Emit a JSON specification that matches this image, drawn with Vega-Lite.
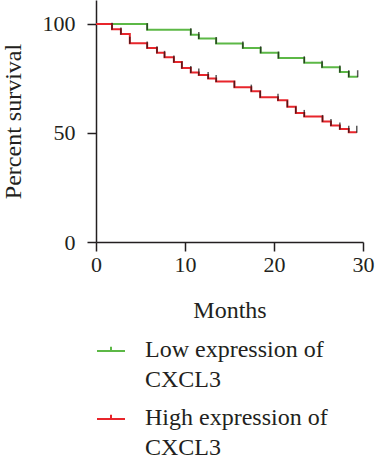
{
  "$schema": "https://vega.github.io/schema/vega-lite/v6.json",
  "autosize": {"type": "none"},
  "padding": {"left": 96, "top": 0, "right": 13, "bottom": 220},
  "width": 267,
  "height": 242,
  "background": "white",
  "data": {"values": [
    {"group": "Low expression of CXCL3", "month": 0, "surv": 100},
    {"group": "Low expression of CXCL3", "month": 5.75, "surv": 97.4},
    {"group": "Low expression of CXCL3", "month": 10.65, "surv": 95.1},
    {"group": "Low expression of CXCL3", "month": 11.55, "surv": 93.3},
    {"group": "Low expression of CXCL3", "month": 13.5, "surv": 91.1},
    {"group": "Low expression of CXCL3", "month": 16.5, "surv": 89.0},
    {"group": "Low expression of CXCL3", "month": 18.5, "surv": 86.8},
    {"group": "Low expression of CXCL3", "month": 20.5, "surv": 84.4},
    {"group": "Low expression of CXCL3", "month": 23.4, "surv": 82.2},
    {"group": "Low expression of CXCL3", "month": 25.4, "surv": 80.1},
    {"group": "Low expression of CXCL3", "month": 27.4, "surv": 78.0},
    {"group": "Low expression of CXCL3", "month": 28.4, "surv": 75.8},
    {"group": "Low expression of CXCL3", "month": 29.4, "surv": 75.8},
    {"group": "High expression of CXCL3", "month": 0, "surv": 100},
    {"group": "High expression of CXCL3", "month": 1.8, "surv": 97.6},
    {"group": "High expression of CXCL3", "month": 2.8, "surv": 95.4},
    {"group": "High expression of CXCL3", "month": 3.8, "surv": 91.2},
    {"group": "High expression of CXCL3", "month": 5.75, "surv": 89.0},
    {"group": "High expression of CXCL3", "month": 6.85, "surv": 86.8},
    {"group": "High expression of CXCL3", "month": 7.7, "surv": 84.7},
    {"group": "High expression of CXCL3", "month": 8.75, "surv": 82.6},
    {"group": "High expression of CXCL3", "month": 9.65, "surv": 79.8},
    {"group": "High expression of CXCL3", "month": 10.65, "surv": 77.8},
    {"group": "High expression of CXCL3", "month": 11.55, "surv": 76.6},
    {"group": "High expression of CXCL3", "month": 12.6, "surv": 75.0},
    {"group": "High expression of CXCL3", "month": 13.5, "surv": 73.6},
    {"group": "High expression of CXCL3", "month": 15.55, "surv": 71.0},
    {"group": "High expression of CXCL3", "month": 17.45, "surv": 69.2},
    {"group": "High expression of CXCL3", "month": 18.45, "surv": 66.4},
    {"group": "High expression of CXCL3", "month": 20.45, "surv": 65.0},
    {"group": "High expression of CXCL3", "month": 21.5, "surv": 62.0},
    {"group": "High expression of CXCL3", "month": 22.45, "surv": 59.2},
    {"group": "High expression of CXCL3", "month": 23.4, "surv": 57.6},
    {"group": "High expression of CXCL3", "month": 25.45, "surv": 55.3},
    {"group": "High expression of CXCL3", "month": 26.4, "surv": 53.4},
    {"group": "High expression of CXCL3", "month": 27.4, "surv": 51.8},
    {"group": "High expression of CXCL3", "month": 28.4, "surv": 50.3},
    {"group": "High expression of CXCL3", "month": 29.3, "surv": 50.3}
  ]},
  "layer": [
    {
      "mark": {"type": "line", "interpolate": "step-after", "strokeWidth": 2},
      "encoding": {
        "x": {"field": "month", "type": "quantitative",
              "scale": {"domain": [0, 30], "nice": false},
              "axis": {"values": [0, 10, 20, 30], "title": "Months"}},
        "y": {"field": "surv", "type": "quantitative",
              "scale": {"domain": [0, 111], "nice": false},
              "axis": {"values": [0, 50, 100], "title": "Percent survival"}},
        "color": {"field": "group", "type": "nominal",
                  "scale": {"domain": ["Low expression of CXCL3", "High expression of CXCL3"],
                            "range": ["#5cb846", "#e8252b"]},
                  "legend": {
                    "orient": "none", "legendX": 0, "legendY": 336,
                    "direction": "vertical", "title": null,
                    "symbolType": "M-1,0H1M0,0V-0.3",
                    "symbolSize": 784, "symbolStrokeWidth": 2,
                    "symbolFillColor": "transparent",
                    "labelExpr": "[replace(datum.label, ' CXCL3', ''), 'CXCL3']",
                    "labelFont": "Liberation Serif", "labelFontSize": 24,
                    "labelColor": "#231f20", "labelBaseline": "alphabetic",
                    "labelOffset": 19, "labelLimit": 300, "rowPadding": 12,
                    "labelOverlap": false,
                    "encode": {"labels": {"update": {"lineHeight": {"value": 30}, "dy": {"value": 6}}}}
                  }}
      }
    },
    {
      "transform": [{"filter": "datum.month > 0"}],
      "mark": {"type": "tick", "orient": "vertical", "size": 7, "thickness": 1.5, "yOffset": -3, "color": "#111111"},
      "encoding": {
        "x": {"field": "month", "type": "quantitative"},
        "y": {"field": "surv", "type": "quantitative"}
      }
    }
  ],
  "config": {
    "view": {"stroke": null},
    "axis": {
      "grid": false, "labelFlush": false,
      "domainColor": "#231f20", "domainWidth": 1.5,
      "tickColor": "#231f20", "tickWidth": 1.5, "tickSize": 9,
      "labelFont": "Liberation Serif", "labelFontSize": 22, "labelColor": "#231f20",
      "titleFont": "Liberation Serif", "titleFontSize": 24, "titleFontWeight": "normal", "titleColor": "#231f20"
    },
    "axisX": {"labelPadding": 3, "titlePadding": 23},
    "axisY": {"labelPadding": 12, "titlePadding": 17}
  }
}
